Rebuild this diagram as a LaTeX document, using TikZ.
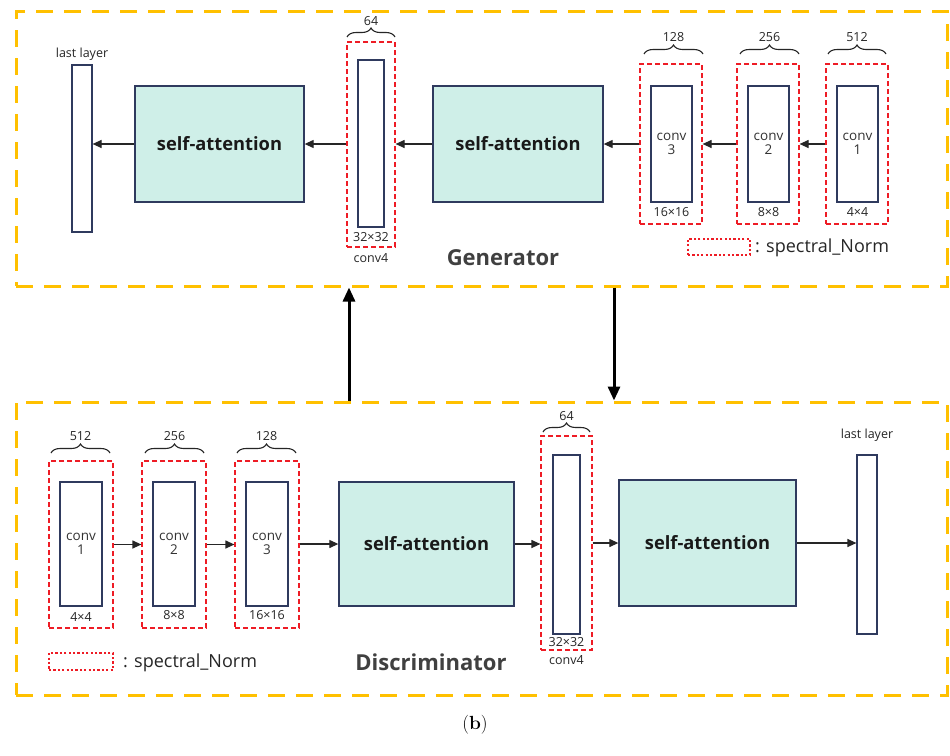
\documentclass[tikz,border=0pt]{standalone}
\usepackage{fontspec}
\setsansfont{Open Sans}
\usetikzlibrary{arrows.meta,decorations.pathreplacing}
\definecolor{ylw}{HTML}{FFC000}
\definecolor{rd}{HTML}{EE1C25}
\definecolor{navy}{HTML}{2F3A5E}
\definecolor{mint}{HTML}{CFEFE8}
\definecolor{txtgray}{HTML}{404040}
\tikzset{
  ybox/.style={draw=ylw,line width=3pt,dash pattern=on 17pt off 11pt,minimum width=931pt,inner sep=0pt},
  redbox/.style={draw=rd,line width=1.2pt,dash pattern=on 5pt off 3pt,inner sep=0pt},
  layerbox/.style={draw=navy,line width=1.2pt,fill=white,inner sep=0pt,font=\sffamily\fontsize{13.5}{15}\selectfont,align=center,text=black!80},
  sabox/.style={draw=navy,line width=1.3pt,fill=mint,inner sep=0pt,font=\sffamily\bfseries\fontsize{18.3}{20}\selectfont,text=black!90},
  arr/.style={line width=1.2pt,draw=black!85,-{Triangle[length=9pt,width=8pt]}},
  bigarr/.style={line width=3pt,draw=black,-{Triangle[length=14pt,width=12pt]}},
  brc/.style={decorate,decoration={brace,amplitude=9pt},line width=1.1pt,draw=black!85},
  small/.style={font=\sffamily\fontsize{12.5}{14}\selectfont,text=black!85,inner sep=0pt},
  legendbox/.style={draw=rd,line width=1.1pt,dash pattern=on 2.2pt off 2.2pt,inner sep=0pt},
  legtxt/.style={font=\sffamily\fontsize{18}{21}\selectfont,text=black!85,anchor=west,inner sep=0pt},
  title/.style={font=\sffamily\bfseries\fontsize{22}{26}\selectfont,text=txtgray,inner sep=0pt}
}
\begin{document}
\begin{tikzpicture}[x=1pt,y=-1pt]
\useasboundingbox[fill=white] (0,0) rectangle (950,755);
% ---------- Generator ----------
\node[ybox,minimum height=275pt] (gbox) at (481.5,148.5) {};
\node[layerbox,minimum width=20pt,minimum height=167pt] (glast) at (82,148.5) {};
\node[small] (glastlab) at (82,54) {last layer};
\node[sabox,minimum width=169pt,minimum height=116pt] (gsa1) at (219.5,144) {self-attention};
\node[redbox,minimum width=48pt,minimum height=205pt] (gc4r) at (371,144.5) {};
\node[layerbox,minimum width=26pt,minimum height=167pt] (gc4) at (371,143.5) {};
\node[small] (gc4s) at (371,237) {32×32};
\node[small] (gc4n) at (371,258) {conv4};
\draw[brc] (347,37) -- (395,37) node[midway,above=11pt,small] (gc4b) {64};
\node[sabox,minimum width=170pt,minimum height=116pt] (gsa2) at (518,144) {self-attention};
\node[redbox,minimum width=62pt,minimum height=160pt] (gc3r) at (671,144) {};
\node[layerbox,minimum width=41pt,minimum height=116pt] (gc3) at (671.5,144) {conv\\[-1pt]3};
\node[small] (gc3s) at (671.5,212) {16×16};
\draw[brc] (644,54) -- (703,54) node[midway,above=12pt,small] (gc3b) {128};
\node[redbox,minimum width=62pt,minimum height=160pt] (gc2r) at (768,144) {};
\node[layerbox,minimum width=41pt,minimum height=116pt] (gc2) at (768.5,144) {conv\\[-1pt]2};
\node[small] (gc2s) at (768.5,212) {8×8};
\draw[brc] (740,54) -- (799,54) node[midway,above=12pt,small] (gc2b) {256};
\node[redbox,minimum width=62pt,minimum height=160pt] (gc1r) at (857,144) {};
\node[layerbox,minimum width=41pt,minimum height=116pt] (gc1) at (857.5,144) {conv\\[-1pt]1};
\node[small] (gc1s) at (857.5,212) {4×4};
\draw[brc] (828,54) -- (886,54) node[midway,above=12pt,small] (gc1b) {512};
\node[legendbox,minimum width=62pt,minimum height=16pt] (gleg) at (719,247) {};
\node[legtxt] (glegt) at (755,248) {: spectral\_Norm};
\node[title] (gtitle) at (503,258) {Generator};
\draw[arr] (gc1r.west) -- (gc2r.east);
\draw[arr] (gc2r.west) -- (gc3r.east);
\draw[arr] (gc3r.west) -- (gsa2.east);
\draw[arr] (gsa2.west) -- (gsa2.west -| gc4r.east);
\draw[arr] (gc4r.west |- gsa1.east) -- (gsa1.east);
\draw[arr] (gsa1.west) -- (gsa1.west -| glast.east);
% ---------- Discriminator ----------
\node[ybox,minimum height=293pt] (dbox) at (481.5,548.5) {};
\node[redbox,minimum width=64pt,minimum height=167pt] (dc1r) at (81,544.5) {};
\node[layerbox,minimum width=42pt,minimum height=124pt] (dc1) at (81,544) {conv\\[-1pt]1};
\node[small] (dc1s) at (81,617) {4×4};
\draw[brc] (51,453) -- (110,453) node[midway,above=12pt,small] (dc1b) {512};
\node[redbox,minimum width=64pt,minimum height=167pt] (dc2r) at (174,544.5) {};
\node[layerbox,minimum width=42pt,minimum height=124pt] (dc2) at (174,544) {conv\\[-1pt]2};
\node[small] (dc2s) at (174,615) {8×8};
\draw[brc] (145,453) -- (204,453) node[midway,above=12pt,small] (dc2b) {256};
\node[redbox,minimum width=64pt,minimum height=167pt] (dc3r) at (267,544.5) {};
\node[layerbox,minimum width=42pt,minimum height=124pt] (dc3) at (267,544) {conv\\[-1pt]3};
\node[small] (dc3s) at (267,615) {16×16};
\draw[brc] (237,453) -- (296,453) node[midway,above=12pt,small] (dc3b) {128};
\node[sabox,minimum width=175pt,minimum height=124pt] (dsa1) at (426.5,544) {self-attention};
\node[redbox,minimum width=51pt,minimum height=214pt] (dc4r) at (566.5,543) {};
\node[layerbox,minimum width=27pt,minimum height=179pt] (dc4) at (566.5,544.5) {};
\node[small] (dc4s) at (566.5,642) {32×32};
\node[small] (dc4n) at (566.5,660) {conv4};
\draw[brc] (543,432) -- (590,432) node[midway,above=11pt,small] (dc4b) {64};
\node[sabox,minimum width=177pt,minimum height=126pt] (dsa2) at (707.5,543) {self-attention};
\node[layerbox,minimum width=20pt,minimum height=179pt] (dlast) at (867,544.5) {};
\node[small] (dlastlab) at (867,435) {last layer};
\node[legendbox,minimum width=64pt,minimum height=17pt] (dleg) at (81,661.5) {};
\node[legtxt] (dlegt) at (123,663) {: spectral\_Norm};
\node[title] (dtitle) at (431,662) {Discriminator};
\draw[arr] (dc1r.east) -- (dc2r.west);
\draw[arr] (dc2r.east) -- (dc3r.west);
\draw[arr] (dc3r.east |- dsa1.west) -- (dsa1.west);
\draw[arr] (dsa1.east) -- (dsa1.east -| dc4r.west);
\draw[arr] (dc4r.east) -- (dsa2.west);
\draw[arr] (dsa2.east) -- (dsa2.east -| dlast.west);
% ---------- between ----------
\draw[bigarr] (349,0 |- dbox.north) -- (349,0 |- gbox.south);
\draw[bigarr] (614,0 |- gbox.south) -- (614,0 |- dbox.north);
\node[font=\fontsize{19}{22}\selectfont,inner sep=0pt] (cap) at (475,725) {(\textbf{b})};
\end{tikzpicture}
\end{document}
